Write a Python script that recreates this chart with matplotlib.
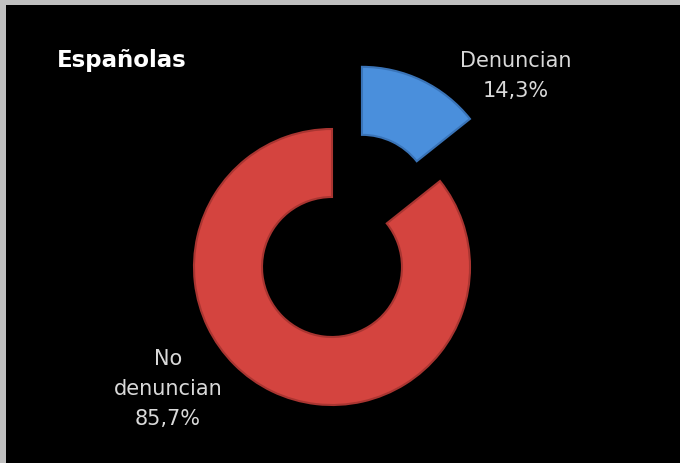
import matplotlib.pyplot as plt
from matplotlib.patches import Rectangle

# ----------------
# DATA
# ----------------

title = 'Españolas'
categories = ['Denuncian', 'No\ndenuncian']
shares = [14.3, 85.7]
colors = ['#4a8fdc', '#d4443f']
edges = ['#3a74b8', '#a93531']

# ----------------
# FIGURE
# ----------------

W, H = 680, 464
fig = plt.figure(figsize=(W / 100, H / 100), dpi=100, facecolor='#c0c0c0')
ax = fig.add_axes([0, 0, 1, 1])

# black panel, leaving a thin grey frame top and left
ax.add_patch(Rectangle((6, 0), W - 6, H - 6, facecolor='black', zorder=0))

center = (332, H - 268)
radius = 138
ring = 68

wedges, _ = ax.pie(
    shares,
    colors=colors,
    startangle=90,
    counterclock=False,
    radius=radius,
    center=center,
    explode=[69, 0],
    wedgeprops=dict(width=ring, linewidth=1.5),
    frame=True,
)
for w, ec in zip(wedges, edges):
    w.set_edgecolor(ec)

ax.set_xlim(0, W)
ax.set_ylim(0, H)
ax.set_aspect('equal')
ax.axis('off')

ax.text(57, H - 61, title, color='white', fontsize=16.5, fontweight='bold',
        ha='left', va='center')

label_style = dict(color='#d9d9d9', fontsize=15, ha='center', va='center',
                   linespacing=1.65)
ax.text(516, H - 76, f'{categories[0]}\n{shares[0]:.1f}%'.replace('.', ','),
        **label_style)
ax.text(168, H - 389, f'{categories[1]}\n{shares[1]:.1f}%'.replace('.', ','),
        **label_style)

fig.savefig('out.png', dpi=100, facecolor=fig.get_facecolor())
